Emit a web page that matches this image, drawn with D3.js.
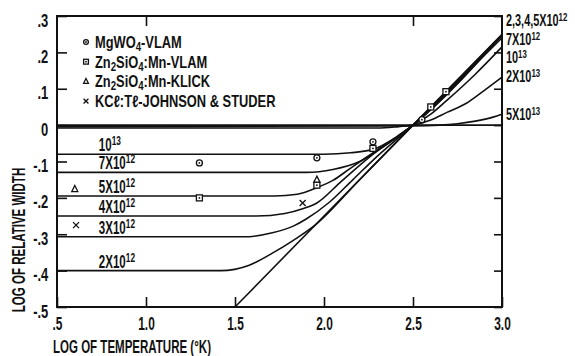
<!DOCTYPE html>
<html>
<head>
<meta charset="utf-8">
<script src="https://cdn.jsdelivr.net/npm/d3@7"></script>
<style>
body { margin: 0; background: #fff; }
svg { display: block; }
text { font-family: "Liberation Sans", Arial, sans-serif; font-weight: bold; fill: #111; }
</style>
</head>
<body>
<div id="chart"></div>
<script>
// log of relative width vs log of temperature
const limitLine = [[1.5, -0.5], [3.0, 0.25]];
const zeroLine = [[0.5, 0], [3.0, 0]];
const c2e12 = [[0.5, -0.40], [1.42, -0.40], [1.58, -0.385], [1.71, -0.352], [1.83, -0.316], [1.95, -0.275], [2.2, -0.15], [2.5, 0], [3.0, 0.248]];
const c3e12 = [[0.5, -0.307], [1.55, -0.307], [1.71, -0.296], [1.83, -0.277], [1.9, -0.258], [2.03, -0.212], [2.16, -0.151], [2.3, -0.085], [2.5, 0], [3.0, 0.248]];
const c4e12 = [[0.5, -0.25], [1.62, -0.25], [1.78, -0.243], [1.88, -0.23], [1.96, -0.214], [2.09, -0.158], [2.25, -0.09], [2.5, 0], [3.0, 0.248]];
const c5e12 = [[0.5, -0.195], [1.72, -0.195], [1.85, -0.19], [1.96, -0.172], [2.05, -0.152], [2.15, -0.118], [2.3, -0.068], [2.5, 0], [3.0, 0.248]];
const c7e12 = [[0.5, -0.13], [1.9, -0.13], [2.05, -0.122], [2.2, -0.1], [2.3, -0.07], [2.4, -0.037], [2.5, 0], [2.6, 0.045], [2.75, 0.118], [3.0, 0.24]];
const c1e13 = [[0.5, -0.08], [2.0, -0.08], [2.15, -0.076], [2.28, -0.066], [2.4, -0.035], [2.5, 0], [2.6, 0.03], [2.69, 0.068], [2.85, 0.14], [3.0, 0.215]];
const c2e13 = [[0.5, -0.008], [2.3, -0.008], [2.42, -0.004], [2.5, 0], [2.6, 0.014], [2.69, 0.035], [2.8, 0.06], [2.88, 0.088], [3.0, 0.132]];
const c5e13 = [[0.5, -0.004], [2.5, -0.002], [2.65, 0], [2.75, 0.004], [2.85, 0.011], [2.95, 0.022], [3.0, 0.03]];

// measured points
const mgwo4Vlam = [[1.30, -0.104], [1.96, -0.09], [2.275, -0.046], [2.55, 0.015]];
const znVlam = [[1.30, -0.20], [1.96, -0.165], [2.275, -0.064], [2.6, 0.05], [2.685, 0.092]];
const znKlick = [[0.60, -0.176], [1.96, -0.15]];
const kclJohnson = [[0.607, -0.275], [1.88, -0.214]];

const xTicks = [0.5, 1.0, 1.5, 2.0, 2.5, 3.0];
const xTickLabels = [".5", "1.0", "1.5", "2.0", "2.5", "3.0"];
const xTopTicks = [1.0, 2.5];
const yTicks = [0.3, 0.2, 0.1, 0, -0.1, -0.2, -0.3, -0.4, -0.5];
const yTickLabels = [".3", ".2", ".1", "0", "-.1", "-.2", "-.3", "-.4", "-.5"];

const leftLabels = ["10^{13}", "7X10^{12}", "5X10^{12}", "4X10^{12}", "3X10^{12}", "2X10^{12}"];
const leftLabelCurves = [c1e13, c7e12, c5e12, c4e12, c3e12, c2e12];
const rightLabels = ["2,3,4,5X10^{12}", "7X10^{12}", "10^{13}", "2X10^{13}", "5X10^{13}"];
const legendLabels = ["MgWO_{4}-VLAM", "Zn_{2}SiO_{4}:Mn-VLAM", "Zn_{2}SiO_{4}:Mn-KLICK", "KCℓ:Tℓ-JOHNSON & STUDER"];
const legendTypes = ["circle", "square", "triangle", "x"];

let svgWidth = 575, svgHeight = 356;
let margin = { top: 16, right: 73, bottom: 49, left: 57 };
let width = svgWidth - margin.left - margin.right;
let height = svgHeight - margin.top - margin.bottom;

let svg = d3.select("#chart").append("svg")
  .attr("width", svgWidth)
  .attr("height", svgHeight);
let g = svg.append("g").attr("transform", `translate(${margin.left},${margin.top})`);

let x = d3.scaleLinear().domain([0.5, 3.0]).range([0, width]);
let y = d3.scaleLinear().domain([-0.5, 0.3]).range([height, 0]);

const SX = 0.66, FS = 17.5;

// text with ^{sup} and _{sub} parts, squeezed horizontally like the lettering
function label(parent, px, py, str, opts = {}) {
  const size = opts.size || FS;
  const t = parent.append("text")
    .attr("transform", `translate(${px},${py})${opts.rotate ? " rotate(" + opts.rotate + ")" : ""} scale(${opts.sx || SX},1)`)
    .attr("font-size", size)
    .attr("text-anchor", opts.anchor || "start");
  const parts = str.split(/(\^\{[^}]*\}|_\{[^}]*\})/).filter(s => s.length);
  let shift = 0;
  parts.forEach(p => {
    let s = 0, txt = p, fs = size;
    if (p[0] === "^") { s = -(opts.supShift || 6); txt = p.slice(2, -1); fs = size * 0.72; }
    else if (p[0] === "_") { s = 3; txt = p.slice(2, -1); fs = size * 0.75; }
    t.append("tspan").attr("dy", s - shift).attr("font-size", fs).text(txt);
    shift = s;
  });
  return t;
}

function symbol(parent, type, cx, cy, s, dot) {
  const st = { stroke: "#111", "stroke-width": 1.3, fill: "#fff" };
  let el;
  if (type === "circle") el = parent.append("circle").attr("cx", cx).attr("cy", cy).attr("r", s);
  else if (type === "square") el = parent.append("rect").attr("x", cx - s).attr("y", cy - s).attr("width", 2 * s).attr("height", 2 * s);
  else if (type === "triangle") el = parent.append("path").attr("d", `M${cx},${cy - s * 1.2}L${cx + s},${cy + s * 0.8}L${cx - s},${cy + s * 0.8}Z`);
  else el = parent.append("path").attr("d", `M${cx - s},${cy - s}L${cx + s},${cy + s}M${cx - s},${cy + s}L${cx + s},${cy - s}`);
  Object.entries(st).forEach(([k, v]) => el.attr(k, v));
  if (dot && type !== "x" && type !== "triangle") {
    parent.append("circle").attr("cx", cx).attr("cy", cy).attr("r", 0.9).attr("fill", "#111");
  }
}

// axes, ticks inside
let xAxis = d3.axisBottom(x).tickValues(xTicks).tickSize(-10).tickPadding(10)
  .tickFormat((d, i) => xTickLabels[i]);
let yAxis = d3.axisLeft(y).tickValues(yTicks).tickSize(-10).tickPadding(8 / SX)
  .tickFormat((d, i) => yTickLabels[i]);

let xg = g.append("g").attr("transform", `translate(0,${height})`).call(xAxis);
let yg = g.append("g").call(yAxis);
g.append("g").call(d3.axisTop(x).tickValues(xTopTicks).tickSize(-10).tickFormat(""));
g.append("g").attr("transform", `translate(${width},0)`)
  .call(d3.axisRight(y).tickValues(yTicks).tickSize(-8).tickFormat(""));

g.selectAll(".domain").remove();
g.selectAll(".tick line").attr("stroke", "#111").attr("stroke-width", 1.6);
xg.selectAll("text").attr("font-size", 18).attr("font-family", null).attr("transform", `scale(${SX},1)`);
yg.selectAll("text").attr("font-size", 18).attr("font-family", null)
  .attr("transform", `scale(${SX + 0.06},1)`).attr("dy", "0.56em");

g.append("rect").attr("width", width).attr("height", height)
  .attr("fill", "none").attr("stroke", "#111").attr("stroke-width", 2);

// curves
let line = d3.line().x(d => x(d[0])).y(d => y(d[1])).curve(d3.curveMonotoneX);
[zeroLine, limitLine, c2e12, c3e12, c4e12, c5e12, c7e12, c1e13, c2e13, c5e13].forEach(c => {
  g.append("path").datum(c).attr("d", line)
    .attr("fill", "none").attr("stroke", "#111").attr("stroke-width", 1.6);
});

// data points
[[mgwo4Vlam, "circle"], [znVlam, "square"], [znKlick, "triangle"], [kclJohnson, "x"]].forEach(([pts, type]) => {
  pts.forEach(p => symbol(g, type, x(p[0]), y(p[1]), 3, true));
});

// curve labels on the left, just above each plateau
leftLabels.forEach((s, i) => {
  label(g, x(0.735), y(leftLabelCurves[i][0][1]) - 3, s);
});

// right side labels
const rightBase = [26, 45, 63, 82, 120];
rightLabels.forEach((s, i) => label(svg, 506, rightBase[i], s, { size: 16, sx: 0.68, supShift: 5 }));

// legend
legendLabels.forEach((s, i) => {
  const cy = 42 + i * 19.7;
  symbol(svg, legendTypes[i], 86, cy, 2.4, true);
  label(svg, 95, cy + 6, s, { size: 16.5, sx: 0.78 });
});

// axis titles
label(svg, 53, 353, "LOG OF TEMPERATURE (°K)", { size: 18, sx: 0.64 });
label(svg, 25, 240, "LOG OF RELATIVE WIDTH", { size: 18, sx: 0.64, rotate: -90, anchor: "middle" });
</script>
</body>
</html>
